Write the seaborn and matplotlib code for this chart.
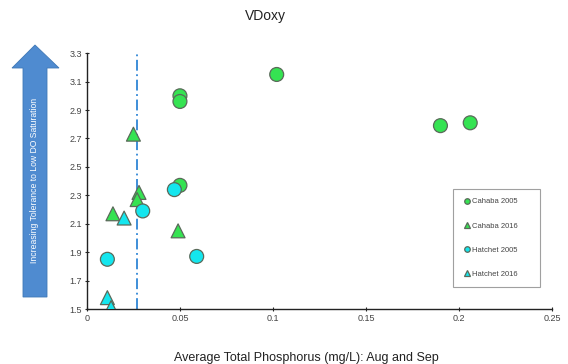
# Import libraries
import pandas as pd
import matplotlib
matplotlib.use("Agg")
import matplotlib.pyplot as plt
import seaborn as sns
from matplotlib.patches import Polygon

# Data
cahaba_2005_x = [0.050, 0.050, 0.050, 0.102, 0.190, 0.206]
cahaba_2005_y = [3.00, 2.96, 2.37, 3.15, 2.79, 2.81]

cahaba_2016_x = [0.025, 0.028, 0.027, 0.014, 0.049]
cahaba_2016_y = [2.73, 2.32, 2.27, 2.17, 2.05]

hatchet_2005_x = [0.047, 0.030, 0.059, 0.011]
hatchet_2005_y = [2.34, 2.19, 1.87, 1.85]

hatchet_2016_x = [0.020, 0.011, 0.013]
hatchet_2016_y = [2.14, 1.58, 1.51]

threshold_x = 0.027

groups = ["Cahaba 2005", "Cahaba 2016", "Hatchet 2005", "Hatchet 2016"]
x_ticks = [0, 0.05, 0.1, 0.15, 0.2, 0.25]
x_tick_labels = ["0", "0.05", "0.1", "0.15", "0.2", "0.25"]
y_ticks = [1.5, 1.7, 1.9, 2.1, 2.3, 2.5, 2.7, 2.9, 3.1, 3.3]

# Build one table
frames = []
for name, xs, ys in zip(groups,
                        [cahaba_2005_x, cahaba_2016_x, hatchet_2005_x, hatchet_2016_x],
                        [cahaba_2005_y, cahaba_2016_y, hatchet_2005_y, hatchet_2016_y]):
    frames.append(pd.DataFrame({"tp": xs, "vdoxy": ys, "group": name}))
df = pd.concat(frames, ignore_index=True)

palette = {"Cahaba 2005": "#35e352", "Cahaba 2016": "#35e352",
           "Hatchet 2005": "#14e6ee", "Hatchet 2016": "#14e6ee"}
markers = {"Cahaba 2005": "o", "Cahaba 2016": "^",
           "Hatchet 2005": "o", "Hatchet 2016": "^"}

sns.set_style("white")
plt.rcParams["font.family"] = ["Liberation Sans", "DejaVu Sans"]

fig = plt.figure(figsize=(5.68, 3.64), dpi=100)
ax = fig.add_axes([0.153, 0.151, 0.819, 0.703])

sns.scatterplot(
    data=df, x="tp", y="vdoxy", hue="group", style="group",
    palette=palette, markers=markers, hue_order=groups, style_order=groups,
    s=100, edgecolor="#5a6a5a", linewidth=0.9, ax=ax, zorder=3
)

# Vertical dash-dot line
ax.axvline(threshold_x, color="#2f86d6", linestyle=(0, (6, 2, 1, 2)), linewidth=1.3, zorder=2)

ax.set_xlim(0, 0.25)
ax.set_ylim(1.5, 3.3)
ax.set_xticks(x_ticks)
ax.set_xticklabels(x_tick_labels)
ax.set_yticks(y_ticks)
ax.tick_params(axis="both", labelsize=6.5, labelcolor="#444444", length=3,
               width=0.8, direction="inout", bottom=True, left=True, pad=2)
sns.despine(ax=ax)
for s in ["left", "bottom"]:
    ax.spines[s].set_color("#222222")
    ax.spines[s].set_linewidth(1.0)

ax.set_xlabel("Average Total Phosphorus (mg/L): Aug and Sep", fontsize=9,
              color="#222222")
ax.xaxis.set_label_coords(0.471, -0.168)
ax.set_ylabel("")
fig.text(0.467, 0.955, "VDoxy", ha="center", va="center", fontsize=10, color="#222222")

# Legend
handles, labels = ax.get_legend_handles_labels()
for h in handles:
    h.set_markersize(4)
leg = ax.legend(handles, labels, loc="lower left", bbox_to_anchor=(0.787, 0.086, 0.187, 0.371),
                mode="expand", fontsize=5.5, frameon=True, fancybox=False,
                labelspacing=2.2, handletextpad=0.1, handlelength=1.2,
                borderpad=1.2, borderaxespad=0)
leg.get_frame().set_edgecolor("#888888")
leg.get_frame().set_linewidth(0.8)
for t in leg.get_texts():
    t.set_color("#444444")

# Arrow on the left
W, H = 568.0, 364.0
pts = [(23, 297), (47, 297), (47, 68), (59, 68), (35, 45), (12, 68), (23, 68)]
arrow = Polygon([(px / W, 1 - py / H) for px, py in pts], closed=True,
                transform=fig.transFigure, facecolor="#4f8bd0", edgecolor="#3f78b6",
                linewidth=0.6)
fig.add_artist(arrow)
fig.text(35 / W, 1 - 180 / H, "Increasing Tolerance to Low DO Saturation", rotation=90,
         ha="center", va="center", fontsize=6.2, color="white")

plt.savefig("out.png", dpi=100)
